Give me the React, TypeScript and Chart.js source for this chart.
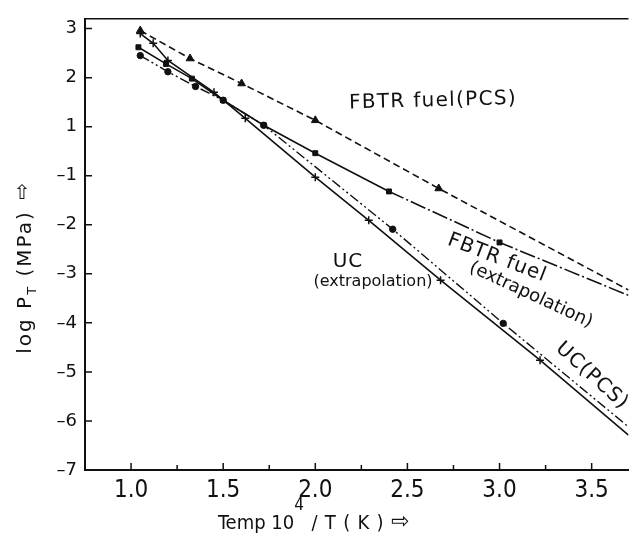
import React, { useEffect, useRef } from "react";
import { Chart, registerables } from "chart.js";

Chart.register(...registerables);

// ---- data (plot positions) ----
const fbtrPcsX = [1.05, 1.32, 1.6, 2.0, 2.67, 3.7];
const fbtrPcsY = [1.96, 1.39, 0.88, 0.13, -1.26, -3.33];

const fbtrExtX = [1.04, 1.19, 1.33, 1.5, 1.72, 2.0, 2.4, 3.0, 3.7];
const fbtrExtY = [1.62, 1.28, 0.98, 0.54, 0.03, -0.54, -1.32, -2.36, -3.44];

const ucPcsX = [1.05, 1.2, 1.35, 1.5, 1.72, 2.42, 3.02, 3.7];
const ucPcsY = [1.45, 1.12, 0.82, 0.54, 0.03, -2.09, -4.01, -6.12];

const ucExtX = [1.05, 1.12, 1.2, 1.45, 1.62, 2.0, 2.29, 2.68, 3.22, 3.7];
const ucExtY = [1.9, 1.7, 1.35, 0.7, 0.17, -1.03, -1.91, -3.13, -4.76, -6.29];

const xTickValues = [1.0, 1.5, 2.0, 2.5, 3.0, 3.5];
const xTickLabels = ["1.0", "1.5", "2.0", "2.5", "3.0", "3.5"];
const xMinorTicks = [1.25, 1.75, 2.25, 2.75, 3.25];
const yTickValues = [2, 1, 0, -1, -2, -3, -4, -5, -6, -7];
const yTickLabels = ["3", "2", "1", "–1", "–2", "–3", "–4", "–5", "–6", "–7"];

const INK = "#111111";
const SANS = "'DejaVu Sans', sans-serif";
const NARROW = "'Liberation Sans Narrow', 'DejaVu Sans Condensed', 'DejaVu Sans', sans-serif";

const pts = (xs: number[], ys: number[]) => xs.map((x, i) => ({ x, y: ys[i] }));
const hideLast = (n: number, r: number) => (c: any) => (c.dataIndex === n - 1 ? 0 : r);

function drawText(ctx: CanvasRenderingContext2D, text: string, x: number, y: number, angle: number, size: number, spacing: number) {
  ctx.save();
  ctx.translate(x, y);
  ctx.rotate((angle * Math.PI) / 180);
  ctx.font = `${size}px ${SANS}`;
  (ctx as any).letterSpacing = `${spacing}px`;
  ctx.textAlign = "center";
  ctx.textBaseline = "middle";
  ctx.fillStyle = INK;
  ctx.fillText(text, 0, 0);
  ctx.restore();
}

const decorPlugin = {
  id: "decor",
  afterDraw(chart: any) {
    const { ctx, chartArea: a, scales } = chart;
    const xs = scales.x;
    const ys = scales.y;
    ctx.save();
    ctx.strokeStyle = INK;
    ctx.lineWidth = 1.6;
    // top border
    ctx.beginPath();
    ctx.moveTo(a.left, a.top);
    ctx.lineTo(a.right, a.top);
    ctx.stroke();
    // inward ticks
    ctx.lineWidth = 1.5;
    ctx.beginPath();
    xTickValues.forEach((v) => {
      const px = xs.getPixelForValue(v);
      ctx.moveTo(px, a.bottom);
      ctx.lineTo(px, a.bottom - 7);
    });
    xMinorTicks.forEach((v) => {
      const px = xs.getPixelForValue(v);
      ctx.moveTo(px, a.bottom);
      ctx.lineTo(px, a.bottom - 5);
    });
    yTickValues.forEach((v) => {
      const py = ys.getPixelForValue(v);
      ctx.moveTo(a.left, py);
      ctx.lineTo(a.left + 7, py);
    });
    ctx.stroke();
    ctx.restore();

    // annotations
    drawText(ctx, "FBTR fuel(PCS)", 433, 101, -1.5, 20, 1.3);
    drawText(ctx, "FBTR fuel", 497, 258, 21, 20, 1);
    drawText(ctx, "(extrapolation)", 531, 295, 25, 18, 0);
    drawText(ctx, "UC", 348, 262, 0, 20, 1);
    drawText(ctx, "(extrapolation)", 373, 282, 0, 16, 0);
    drawText(ctx, "UC(PCS)", 592, 376, 42, 20, 1);

    // y axis title (rotated)
    ctx.save();
    ctx.fillStyle = INK;
    ctx.translate(31, 282);
    ctx.rotate(-Math.PI / 2);
    ctx.textAlign = "left";
    ctx.textBaseline = "alphabetic";
    (ctx as any).letterSpacing = "2px";
    ctx.font = `20px ${SANS}`;
    const p1 = "log P";
    const p3 = " (MPa)";
    const w1 = ctx.measureText(p1).width;
    const w3 = ctx.measureText(p3).width;
    ctx.font = `13px ${SANS}`;
    const w2 = ctx.measureText("T").width;
    const total = w1 + w2 + w3;
    let cx = -total / 2;
    ctx.font = `20px ${SANS}`;
    ctx.fillText(p1, cx, 0);
    cx += w1;
    ctx.font = `13px ${SANS}`;
    ctx.fillText("T", cx, 5);
    cx += w2;
    ctx.font = `20px ${SANS}`;
    ctx.fillText(p3, cx, 0);
    ctx.restore();
    // up arrow at the end of the y title
    ctx.save();
    ctx.fillStyle = INK;
    ctx.font = `20px ${SANS}`;
    ctx.textAlign = "center";
    ctx.textBaseline = "middle";
    ctx.fillText("⇧", 22, 194);
    ctx.restore();

    // x axis title
    ctx.save();
    ctx.fillStyle = INK;
    ctx.textAlign = "left";
    ctx.textBaseline = "alphabetic";
    (ctx as any).letterSpacing = "0px";
    let tx = 218;
    const base = 529;
    ctx.font = `20px ${NARROW}`;
    ctx.fillText("Temp 10", tx, base);
    tx += ctx.measureText("Temp 10").width;
    ctx.font = `17px ${NARROW}`;
    ctx.fillText("4", tx, base - 19);
    tx += ctx.measureText("4").width + 1;
    (ctx as any).letterSpacing = "0.8px";
    ctx.font = `20px ${NARROW}`;
    ctx.fillText(" / T ( K ) ", tx, base);
    tx += ctx.measureText(" / T ( K ) ").width;
    (ctx as any).letterSpacing = "0px";
    ctx.font = `22px ${SANS}`;
    ctx.fillText("⇨", tx, base - 1);
    ctx.restore();
  },
};

export default function App() {
  const ref = useRef<HTMLCanvasElement | null>(null);

  useEffect(() => {
    if (!ref.current) return;
    const chart = new Chart(ref.current, {
      type: "scatter",
      data: {
        datasets: [
          {
            label: "FBTR fuel (PCS)",
            data: pts(fbtrPcsX, fbtrPcsY),
            showLine: true,
            borderColor: INK,
            backgroundColor: INK,
            borderWidth: 1.6,
            borderDash: [7, 4],
            pointStyle: "triangle",
            pointRadius: hideLast(fbtrPcsX.length, 4.5),
            pointBorderWidth: 1,
          },
          {
            label: "FBTR fuel (extrapolation)",
            data: pts(fbtrExtX, fbtrExtY),
            showLine: true,
            borderColor: INK,
            backgroundColor: INK,
            borderWidth: 1.6,
            segment: {
              borderDash: (c: any) => (c.p0.parsed.x >= 2.39 ? [16, 3, 2, 3] : []),
            },
            pointStyle: "rect",
            pointRadius: hideLast(fbtrExtX.length, 3.5),
            pointBorderWidth: 1,
          },
          {
            label: "UC (PCS)",
            data: pts(ucPcsX, ucPcsY),
            showLine: true,
            borderColor: INK,
            backgroundColor: INK,
            borderWidth: 1.4,
            borderDash: [10, 3, 2, 3, 2, 3],
            pointStyle: "circle",
            pointRadius: hideLast(ucPcsX.length, 3.2),
            pointBorderWidth: 1,
          },
          {
            label: "UC (extrapolation)",
            data: pts(ucExtX, ucExtY),
            showLine: true,
            borderColor: INK,
            backgroundColor: INK,
            borderWidth: 1.6,
            pointStyle: "cross",
            pointRadius: hideLast(ucExtX.length, 4),
            pointBorderWidth: 1.5,
          },
        ],
      },
      options: {
        animation: false,
        responsive: false,
        devicePixelRatio: 1,
        layout: { padding: { top: 18, right: 1, left: 0, bottom: 0 } },
        plugins: { legend: { display: false }, tooltip: { enabled: false } },
        elements: { line: { tension: 0 } },
        scales: {
          x: {
            type: "linear",
            min: 0.75,
            max: 3.7,
            afterBuildTicks: (s: any) => {
              s.ticks = xTickValues.map((v) => ({ value: v }));
            },
            afterFit: (s: any) => {
              s.height = 69;
            },
            ticks: {
              autoSkip: false,
              maxRotation: 0,
              padding: 6,
              color: INK,
              font: { family: NARROW, size: 24 },
              callback: (v: any) => {
                const i = xTickValues.indexOf(Number(v));
                return i >= 0 ? xTickLabels[i] : "";
              },
            },
            grid: { display: false, drawTicks: false },
            border: { display: true, color: INK, width: 2 },
          },
          y: {
            type: "linear",
            min: -7,
            max: 2.2,
            afterBuildTicks: (s: any) => {
              s.ticks = yTickValues.map((v) => ({ value: v }));
            },
            afterFit: (s: any) => {
              s.width = 85;
            },
            ticks: {
              autoSkip: false,
              padding: 8,
              color: INK,
              font: { family: SANS, size: 18 },
              callback: (v: any) => {
                const i = yTickValues.indexOf(Number(v));
                return i >= 0 ? yTickLabels[i] : "";
              },
            },
            grid: { display: false, drawTicks: false },
            border: { display: true, color: INK, width: 2 },
          },
        },
      },
      plugins: [decorPlugin],
    } as any);
    return () => chart.destroy();
  }, []);

  return (
    <div style={{ position: "absolute", left: 0, top: 0, width: 634, height: 539, background: "#fff" }}>
      <canvas ref={ref} width={634} height={539} style={{ display: "block", width: 634, height: 539 }} />
    </div>
  );
}
